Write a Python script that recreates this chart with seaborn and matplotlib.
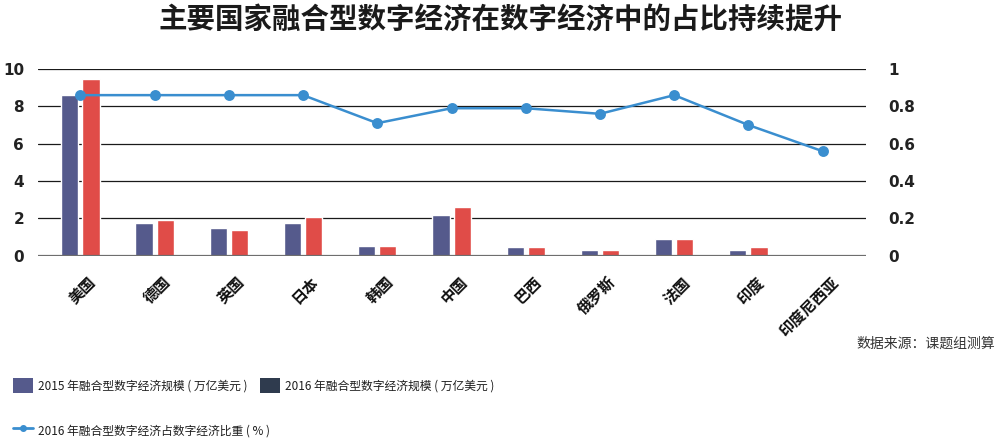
import numpy as np
import pandas as pd
import matplotlib
matplotlib.use("Agg")
import matplotlib.pyplot as plt
import matplotlib.transforms as mtransforms
from matplotlib.patches import Patch
from matplotlib.lines import Line2D
import seaborn as sns

# Data
countries = ["美国", "德国", "英国", "日本", "韩国", "中国", "巴西", "俄罗斯", "法国", "印度", "印度尼西亚"]
size_2015 = [8.6, 1.78, 1.51, 1.78, 0.53, 2.19, 0.46, 0.32, 0.91, 0.32, np.nan]
size_2016 = [9.47, 1.93, 1.39, 2.07, 0.53, 2.64, 0.46, 0.32, 0.91, 0.46, np.nan]
share_2016 = [0.86, 0.86, 0.86, 0.86, 0.71, 0.79, 0.79, 0.76, 0.86, 0.70, 0.56]
left_ticks = [0, 2, 4, 6, 8, 10]
right_ticks = [0, 0.2, 0.4, 0.6, 0.8, 1]

label_2015 = "2015 年融合型数字经济规模 ( 万亿美元 )"
label_2016 = "2016 年融合型数字经济规模 ( 万亿美元 )"
label_share = "2016 年融合型数字经济占数字经济比重 ( % )"
title = "主要国家融合型数字经济在数字经济中的占比持续提升"
source = "数据来源：课题组测算"

# Colours
c2015 = "#555a8c"
c2016 = "#e04c48"
c2016_legend = "#2f3b4e"
c_line = "#3a8ecf"

sns.set_theme(style="white")
plt.rcParams["font.family"] = ["Noto Sans CJK SC", "DejaVu Sans"]

# Long table for seaborn
bars_df = pd.DataFrame({
    "country": countries * 2,
    "year": ["2015"] * len(countries) + ["2016"] * len(countries),
    "value": size_2015 + size_2016,
})
line_df = pd.DataFrame({"country": countries, "share": share_2016})

fig = plt.figure(figsize=(10.02, 4.45), dpi=100)
ax = fig.add_axes([0.038, 0.425, 0.826, 0.42])

sns.barplot(data=bars_df, x="country", y="value", hue="year", order=countries,
            palette=[c2015, c2016], saturation=1, width=0.57, gap=0.19,
            legend=False, ax=ax)

ax.set_ylim(0, 10)
ax.set_yticks(left_ticks)
ax.set_yticklabels([str(t) for t in left_ticks], fontsize=11, fontweight="bold",
                   family="DejaVu Sans", color="#222222")
ax.tick_params(axis="y", length=0, pad=10)
for t in left_ticks[1:]:
    ax.axhline(t, color="#1a1a1a", lw=0.9, zorder=0)
ax.axhline(0, color="#6e6e6e", lw=1.6, zorder=3)
for s in ax.spines.values():
    s.set_visible(False)
ax.set_xlabel("")
ax.set_ylabel("")

# Share line on the right axis
ax2 = ax.twinx()
sns.pointplot(data=line_df, x="country", y="share", order=countries, color=c_line,
              markers="o", markersize=6.5, linewidth=1.8, ax=ax2)
ax2.set_ylim(0, 1)
ax2.set_yticks(right_ticks)
ax2.set_yticklabels([f"{t:g}" for t in right_ticks], fontsize=11, fontweight="bold",
                    family="DejaVu Sans", color="#222222")
ax2.tick_params(axis="y", length=0, pad=16)
for s in ax2.spines.values():
    s.set_visible(False)
ax2.set_xlabel("")
ax2.set_ylabel("")
ax2.grid(False)

ax.set_xlim(-0.57, len(countries) - 1 + 0.58)
ax2.set_xlim(-0.57, len(countries) - 1 + 0.58)
ax.set_xticks(range(len(countries)))
ax.set_xticklabels(countries, rotation=45, ha="right", va="center",
                   rotation_mode="anchor", fontsize=11, fontweight="bold", color="#111111")
ax.tick_params(axis="x", length=0, pad=17)
offset = mtransforms.ScaledTranslation(13 / 100, 0, fig.dpi_scale_trans)
for lab in ax.get_xticklabels():
    lab.set_transform(lab.get_transform() + offset)

# Title and source
fig.text(0.5, 1 - 20 / 445, title, ha="center", va="center", fontsize=20.5, fontweight="bold",
         color="#1a1a1a")
fig.text(0.993, 1 - 344 / 445, source, ha="right", va="center", fontsize=10,
         color="#333333")

# Legends
h2015 = Patch(facecolor=c2015, edgecolor="none")
h2016 = Patch(facecolor=c2016_legend, edgecolor="none")
hline = Line2D([], [], color=c_line, lw=2, marker="o", markersize=4)
leg_kw = dict(loc="upper left", frameon=False, fontsize=8.5, handlelength=1.7,
              handleheight=1.65, handletextpad=0.45, borderaxespad=0, borderpad=0.3)
leg1 = fig.legend([h2015, hline], [label_2015, label_share],
                  bbox_to_anchor=(0.009, 1 - 374 / 445), labelspacing=2.5, **leg_kw)
leg2 = fig.legend([h2016], [label_2016],
                  bbox_to_anchor=(0.256, 1 - 374 / 445), **leg_kw)
for leg in (leg1, leg2):
    for txt in leg.get_texts():
        txt.set_color("#1e1e1e")

fig.savefig("out.png", dpi=100)
